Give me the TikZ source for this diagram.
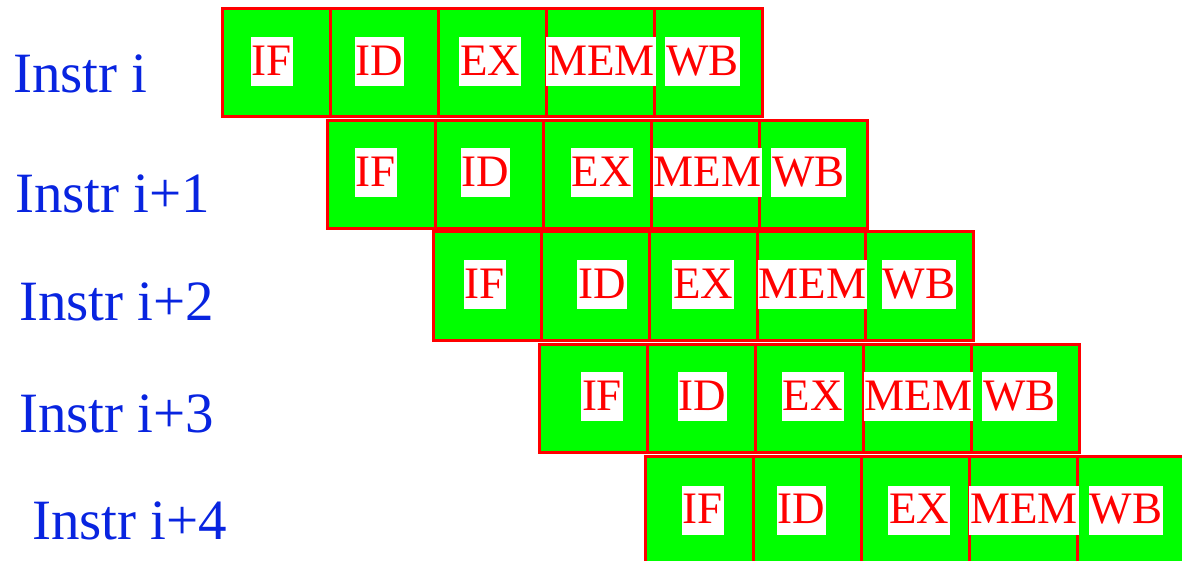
\documentclass[tikz,border=0pt]{standalone}
\usepackage{fontspec}
\setmainfont{Liberation Serif}
\definecolor{stagegreen}{RGB}{0,255,0}
\definecolor{stagered}{RGB}{255,0,0}
\definecolor{instrblue}{RGB}{8,36,224}

\begin{document}
\begin{tikzpicture}[
  x=1pt,y=-1pt,
  cell/.style={draw=stagered,fill=stagegreen,line width=3pt,minimum width=108pt,minimum height=108pt,inner sep=0pt},
  stage/.style={fill=white,text=stagered,font=\fontsize{45}{45}\selectfont,inner xsep=1pt,inner ysep=0pt,text height=38pt,text depth=11pt},
  instr/.style={text=instrblue,font=\fontsize{57}{57}\selectfont,anchor=base west,inner sep=0pt}
]
\useasboundingbox (0,0) rectangle (1182,561);
\clip (0,0) rectangle (1182,561);
% instruction i
\node[cell] (c0if) at (276,63) {};
\node[cell] (c0id) at (384,63) {};
\node[cell] (c0ex) at (492,63) {};
\node[cell] (c0mem) at (600,63) {};
\node[cell] (c0wb) at (708,63) {};
% instruction i+1
\node[cell] (c1if) at (381.5,175) {};
\node[cell] (c1id) at (489.5,175) {};
\node[cell] (c1ex) at (597.5,175) {};
\node[cell] (c1mem) at (705.5,175) {};
\node[cell] (c1wb) at (813.5,175) {};
% instruction i+2
\node[cell] (c2if) at (487,286) {};
\node[cell] (c2id) at (595,286) {};
\node[cell] (c2ex) at (703,286) {};
\node[cell] (c2mem) at (811,286) {};
\node[cell] (c2wb) at (919,286) {};
% instruction i+3
\node[cell] (c3if) at (593,398) {};
\node[cell] (c3id) at (701,398) {};
\node[cell] (c3ex) at (809,398) {};
\node[cell] (c3mem) at (917,398) {};
\node[cell] (c3wb) at (1025,398) {};
% instruction i+4
\node[cell] (c4if) at (699,510) {};
\node[cell] (c4id) at (807,510) {};
\node[cell] (c4ex) at (915,510) {};
\node[cell] (c4mem) at (1023,510) {};
\node[cell] (c4wb) at (1131,510) {};
% stage names
\node[stage] (s0if) at (272,62) {IF};
\node[stage] (s0id) at (379.5,62) {ID};
\node[stage] (s0ex) at (490,62) {EX};
\node[stage] (s0mem) at (601,62) {MEM};
\node[stage] (s0wb) at (702.5,62) {WB};
\node[stage] (s1if) at (376,173) {IF};
\node[stage] (s1id) at (485.5,173) {ID};
\node[stage] (s1ex) at (601.5,173) {EX};
\node[stage] (s1mem) at (707.5,173) {MEM};
\node[stage] (s1wb) at (808.5,173) {WB};
\node[stage] (s2if) at (484.5,284.5) {IF};
\node[stage] (s2id) at (602,284.5) {ID};
\node[stage] (s2ex) at (703,284.5) {EX};
\node[stage] (s2mem) at (812.5,284.5) {MEM};
\node[stage] (s2wb) at (919,284.5) {WB};
\node[stage] (s3if) at (602,396.5) {IF};
\node[stage] (s3id) at (702.5,396.5) {ID};
\node[stage] (s3ex) at (812.5,396.5) {EX};
\node[stage] (s3mem) at (918.5,396.5) {MEM};
\node[stage] (s3wb) at (1019.5,396.5) {WB};
\node[stage] (s4if) at (702.5,510) {IF};
\node[stage] (s4id) at (801.5,510) {ID};
\node[stage] (s4ex) at (919,510) {EX};
\node[stage] (s4mem) at (1024,510) {MEM};
\node[stage] (s4wb) at (1126,510) {WB};
% row labels
\node[instr] (i0) at (13,93) {Instr i};
\node[instr] (i1) at (15,213) {Instr i+1};
\node[instr] (i2) at (19,320) {Instr i+2};
\node[instr] (i3) at (19,432) {Instr i+3};
\node[instr] (i4) at (32,539) {Instr i+4};
\end{tikzpicture}
\end{document}
